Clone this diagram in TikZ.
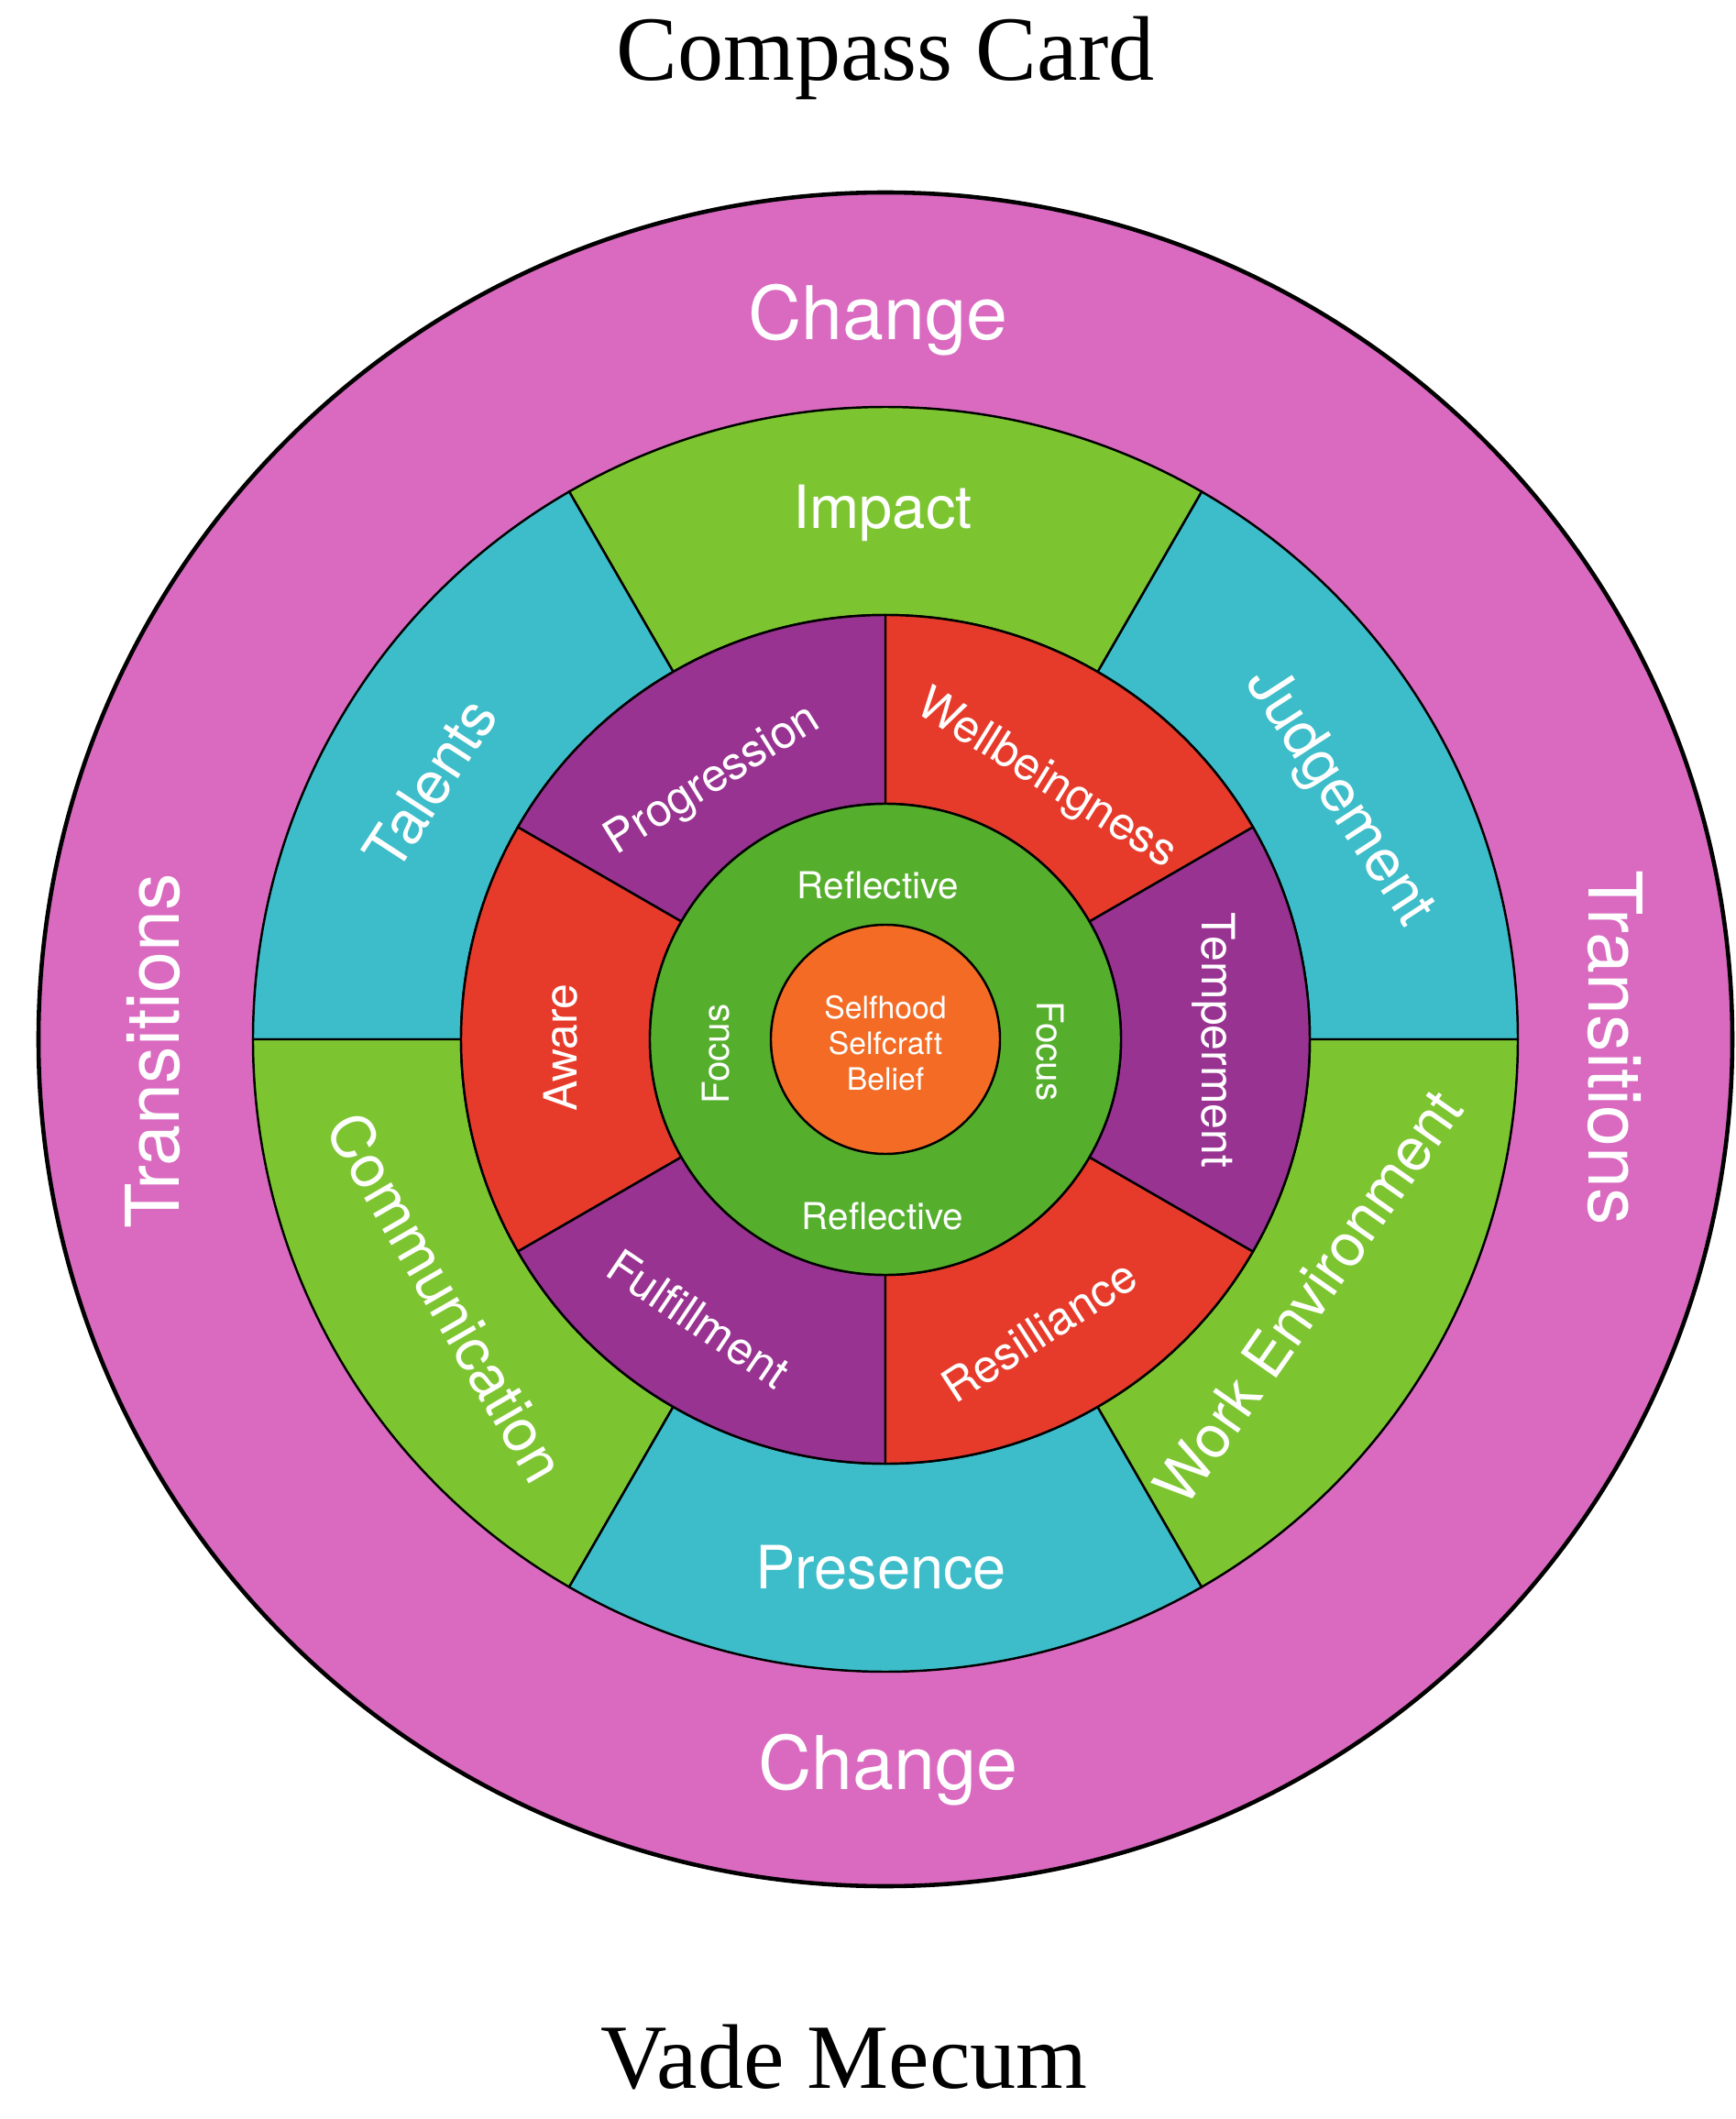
\documentclass[tikz,border=0pt]{standalone}
\usepackage{fontspec}
\setmainfont{Liberation Serif}
\setsansfont{TeX Gyre Heros}
\usepackage{xcolor}
\usepackage{tikz}

\definecolor{ringpink}{HTML}{DA6AC0}
\definecolor{ringcyan}{HTML}{3DBDC9}
\definecolor{ringlime}{HTML}{7DC530}
\definecolor{ringpurple}{HTML}{983391}
\definecolor{ringred}{HTML}{E63B2B}
\definecolor{ringgreen}{HTML}{55AE2C}
\definecolor{ringorange}{HTML}{F36B24}

\begin{document}
\begin{tikzpicture}[
    seg/.style={draw=black,line width=0.7pt},
    titletext/.style={text=black,anchor=base,font=\fontsize{28.5}{32}\selectfont},
    lbl/.style={text=white,inner sep=0pt},
    outerlbl/.style={lbl,font=\sffamily\fontsize{23}{26}\selectfont},
    midlbl/.style={lbl,font=\sffamily\fontsize{18.5}{21}\selectfont},
    innerlbl/.style={lbl,font=\sffamily\fontsize{14.2}{16}\selectfont},
    corelbl/.style={lbl,font=\sffamily\fontsize{11.5}{13}\selectfont}]
  \useasboundingbox (-9.66,-11.78) rectangle (9.27,11.34);
  \fill[white] (-9.66,-11.78) rectangle (9.27,11.34);

  \node[titletext] (title) at (0,10.46) {Compass Card};
  \node[titletext] (motto) at (-0.45,-11.44) {Vade Mecum};

  \filldraw[fill=ringpink,draw=black,line width=1.3pt] (0,0) circle (9.24);

  \filldraw[seg,fill=ringcyan] (0:4.63) -- (0:6.90) arc (0:60:6.90) -- (60:4.63) arc (60:0:4.63) -- cycle;
  \filldraw[seg,fill=ringlime] (60:4.63) -- (60:6.90) arc (60:120:6.90) -- (120:4.63) arc (120:60:4.63) -- cycle;
  \filldraw[seg,fill=ringcyan] (120:4.63) -- (120:6.90) arc (120:180:6.90) -- (180:4.63) arc (180:120:4.63) -- cycle;
  \filldraw[seg,fill=ringlime] (180:4.63) -- (180:6.90) arc (180:240:6.90) -- (240:4.63) arc (240:180:4.63) -- cycle;
  \filldraw[seg,fill=ringcyan] (240:4.63) -- (240:6.90) arc (240:300:6.90) -- (300:4.63) arc (300:240:4.63) -- cycle;
  \filldraw[seg,fill=ringlime] (300:4.63) -- (300:6.90) arc (300:360:6.90) -- (360:4.63) arc (360:300:4.63) -- cycle;

  \filldraw[seg,fill=ringred] (30:2.57) -- (30:4.63) arc (30:90:4.63) -- (90:2.57) arc (90:30:2.57) -- cycle;
  \filldraw[seg,fill=ringpurple] (90:2.57) -- (90:4.63) arc (90:150:4.63) -- (150:2.57) arc (150:90:2.57) -- cycle;
  \filldraw[seg,fill=ringred] (150:2.57) -- (150:4.63) arc (150:210:4.63) -- (210:2.57) arc (210:150:2.57) -- cycle;
  \filldraw[seg,fill=ringpurple] (210:2.57) -- (210:4.63) arc (210:270:4.63) -- (270:2.57) arc (270:210:2.57) -- cycle;
  \filldraw[seg,fill=ringred] (270:2.57) -- (270:4.63) arc (270:330:4.63) -- (330:2.57) arc (330:270:2.57) -- cycle;
  \filldraw[seg,fill=ringpurple] (330:2.57) -- (330:4.63) arc (330:390:4.63) -- (390:2.57) arc (390:330:2.57) -- cycle;

  \filldraw[seg,fill=ringgreen] (0,0) circle (2.57);
  \filldraw[seg,fill=ringorange] (0,0) circle (1.25);

  \node[outerlbl] (changetop) at (-0.08,7.85) {Change};
  \node[outerlbl] (changebot) at (0.03,-7.97) {Change};
  \node[outerlbl,rotate=90] (transleft) at (-7.99,-0.13) {Transitions};
  \node[outerlbl,rotate=-90] (transright) at (7.96,-0.09) {Transitions};

  \node[midlbl] (impact) at (-0.03,5.74) {Impact};
  \node[midlbl,rotate=57] (talents) at (-4.97,2.79) {Talents};
  \node[midlbl,rotate=-57] (judgement) at (4.94,2.64) {Judgement};
  \node[midlbl,rotate=-60] (communication) at (-4.79,-2.81) {Communication};
  \node[midlbl,rotate=55] (workenv) at (4.61,-2.81) {Work Environment};
  \node[midlbl] (presence) at (-0.05,-5.76) {Presence};

  \node[innerlbl,rotate=32] (progression) at (-1.88,2.82) {Progression};
  \node[innerlbl,rotate=-32] (wellbeing) at (1.75,2.83) {Wellbeingness};
  \node[innerlbl,rotate=90] (aware) at (-3.54,-0.09) {Aware};
  \node[innerlbl,rotate=-90] (temperment) at (3.58,-0.01) {Temperment};
  \node[innerlbl,rotate=-34] (fulfillment) at (-2.04,-3.05) {Fulfillment};
  \node[innerlbl,rotate=33] (resilliance) at (1.68,-3.18) {Resilliance};

  \node[corelbl] (reflecttop) at (-0.08,1.68) {Reflective};
  \node[corelbl] (reflectbot) at (-0.03,-1.93) {Reflective};
  \node[corelbl,rotate=90] (focusleft) at (-1.85,-0.16) {Focus};
  \node[corelbl,rotate=-90] (focusright) at (1.80,-0.13) {Focus};

  \node[lbl,align=center,font=\sffamily\fontsize{9.6}{11.1}\selectfont] (self) at (0,-0.04) {Selfhood\\Selfcraft\\Belief};
\end{tikzpicture}
\end{document}
